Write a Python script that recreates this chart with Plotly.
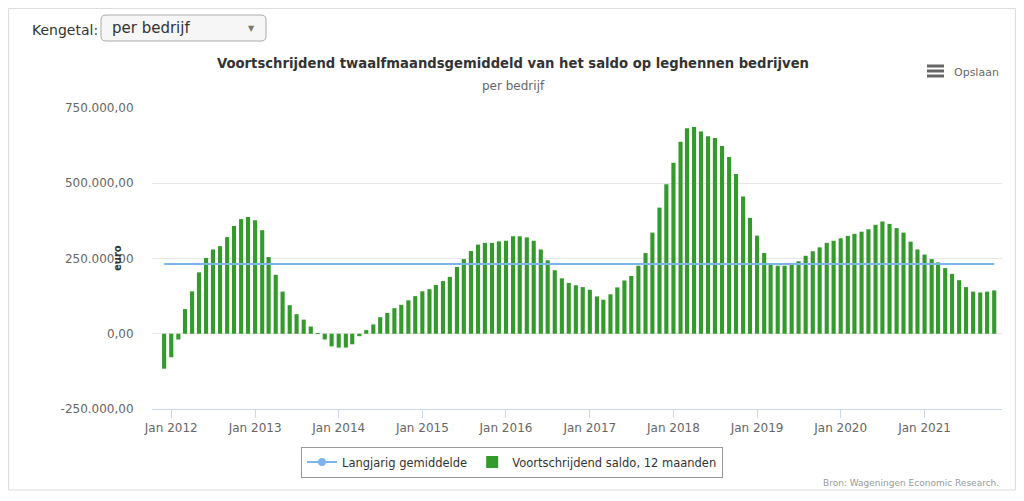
import pandas as pd
import plotly.graph_objects as go

# ---- data ----
maanden = pd.date_range("2011-12-01", periods=120, freq="MS")
saldo_k = [
    -116, -78, -19, 82, 141, 204, 252, 280, 291, 321, 358, 381,
    388, 377, 344, 255, 196, 140, 95, 65, 47, 24, 2, -19,
    -42, -46, -46, -35, -8, 12, 31, 55, 69, 85, 96, 111,
    125, 141, 148, 162, 175, 189, 222, 248, 275, 296, 302, 302,
    307, 309, 324, 324, 320, 309, 280, 244, 211, 184, 169, 161,
    155, 146, 124, 113, 131, 154, 177, 192, 226, 268, 336, 419,
    497, 568, 638, 683, 687, 672, 656, 650, 624, 587, 531, 456,
    385, 326, 268, 231, 226, 226, 234, 241, 259, 274, 287, 302,
    309, 317, 325, 332, 339, 347, 362, 373, 365, 351, 336, 306,
    280, 263, 248, 237, 218, 199, 178, 155, 140, 137, 140, 144,
]
saldo = [v * 1000 for v in saldo_k]
langjarig_gemiddelde = 232000
y_tickvals = [-250000, 0, 250000, 500000, 750000]
y_ticktext = ["-250.000,00", "0,00", "250.000,00", "500.000,00", "750.000,00"]

# ---- layout helpers (page pixel -> paper) ----
OFF = 8                      # default page margin around the figure
L, R, T, B = 152, 1002, 108, 409   # plot area in page pixels
W, H = 1024 - 2 * OFF, 501 - 2 * OFF


def px(x):
    return (x - L) / (R - L)


def py(y):
    return (B - y) / (B - T)


FONT = "DejaVu Sans"
BLUE = "#7cb5ec"
GREEN = "#339a2b"

fig = go.Figure()
# legend-only entry for the average line (line + circle marker)
fig.add_trace(go.Scatter(
    x=[None], y=[None], mode="lines+markers", name="Langjarig gemiddelde",
    line=dict(color=BLUE, width=2), marker=dict(color=BLUE, size=8, symbol="circle"),
))
fig.add_trace(go.Scatter(
    x=list(maanden), y=[langjarig_gemiddelde] * len(maanden),
    mode="lines", name="Langjarig gemiddelde", showlegend=False,
    line=dict(color=BLUE, width=2),
))
fig.add_trace(go.Bar(
    x=list(maanden), y=saldo, name="Voortschrijdend saldo, 12 maanden",
    marker=dict(color=GREEN, line=dict(width=0)),
    width=18 * 86400000,
))

shapes = []
# outer frame
shapes.append(dict(type="rect", xref="paper", yref="paper",
                   x0=px(8.5), x1=px(1015.5), y0=py(490), y1=py(8.5),
                   line=dict(color="#dddddd", width=1), layer="below"))
# dropdown box (rounded)
x0, x1, y0, y1 = 101, 266, 15, 41
r = 5
rx, ry = r / (R - L), r / (B - T)
path = (f"M {px(x0)+rx},{py(y0)} L {px(x1)-rx},{py(y0)} Q {px(x1)},{py(y0)} {px(x1)},{py(y0)-ry} "
        f"L {px(x1)},{py(y1)+ry} Q {px(x1)},{py(y1)} {px(x1)-rx},{py(y1)} "
        f"L {px(x0)+rx},{py(y1)} Q {px(x0)},{py(y1)} {px(x0)},{py(y1)+ry} "
        f"L {px(x0)},{py(y0)-ry} Q {px(x0)},{py(y0)} {px(x0)+rx},{py(y0)} Z")
shapes.append(dict(type="path", xref="paper", yref="paper", path=path,
                   line=dict(color="#aaaaaa", width=1), fillcolor="#f6f6f6"))
# hamburger icon
for yy in (66, 71, 76):
    shapes.append(dict(type="line", xref="paper", yref="paper",
                       x0=px(927), x1=px(944), y0=py(yy), y1=py(yy),
                       line=dict(color="#666666", width=3)))

annotations = [
    dict(text="Kengetal:", x=px(30), y=py(30), xanchor="left", yanchor="middle",
         font=dict(family=FONT, size=14, color="#333333")),
    dict(text="per bedrijf", x=px(110), y=py(28), xanchor="left", yanchor="middle",
         font=dict(family=FONT, size=15, color="#333333")),
    dict(text="▼", x=px(251), y=py(28), xanchor="center", yanchor="middle",
         font=dict(family=FONT, size=8, color="#777777")),
    dict(text="<b>Voortschrijdend twaalfmaandsgemiddeld van het saldo op leghennen bedrijven</b>",
         x=px(513), y=py(63), xanchor="center", yanchor="middle",
         font=dict(family=FONT, size=13.2, color="#333333")),
    dict(text="per bedrijf", x=px(513), y=py(86), xanchor="center", yanchor="middle",
         font=dict(family=FONT, size=12, color="#666666")),
    dict(text="Opslaan", x=px(952), y=py(72), xanchor="left", yanchor="middle",
         font=dict(family=FONT, size=11, color="#666666")),
    dict(text="Bron: Wageningen Economic Research.", x=px(1001), y=py(483),
         xanchor="right", yanchor="middle",
         font=dict(family=FONT, size=9, color="#999999")),
    dict(text="<b>euro</b>", x=px(117), y=py(258), xanchor="center", yanchor="middle",
         textangle=-90, font=dict(family=FONT, size=10, color="#333333")),
]
for a in annotations:
    a.update(xref="paper", yref="paper", showarrow=False)

fig.update_layout(
    width=W, height=H,
    margin=dict(l=L - OFF, r=(W + OFF) - R, t=T - OFF, b=(H + OFF) - B, pad=0),
    paper_bgcolor="white", plot_bgcolor="white",
    font=dict(family=FONT, color="#666666", size=12),
    showlegend=True,
    legend=dict(orientation="h", x=px(512), xanchor="center", y=py(462), yanchor="middle",
                bordercolor="#999999", borderwidth=1, bgcolor="white",
                font=dict(family=FONT, size=11.5, color="#333333"),
                itemwidth=30, tracegroupgap=0),
    shapes=shapes, annotations=annotations,
    xaxis=dict(type="date", range=["2011-10-09", "2021-12-05"],
               tick0="2012-01-01", dtick="M12", tickformat="%b %Y",
               showgrid=False, zeroline=False,
               showline=True, linecolor="#ccd6eb", linewidth=1,
               ticks="outside", ticklen=8, tickcolor="#ccd6eb",
               tickfont=dict(family=FONT, size=12, color="#666666")),
    yaxis=dict(range=[-250000, 750000], tickvals=y_tickvals, ticktext=y_ticktext,
               showgrid=True, gridcolor="#e6e6e6", gridwidth=1, zeroline=False,
               showline=False, ticks="outside", ticklen=15, tickcolor="rgba(0,0,0,0)",
               tickfont=dict(family=FONT, size=12, color="#666666")),
    bargap=0.4,
)

fig.write_html("out.html")
